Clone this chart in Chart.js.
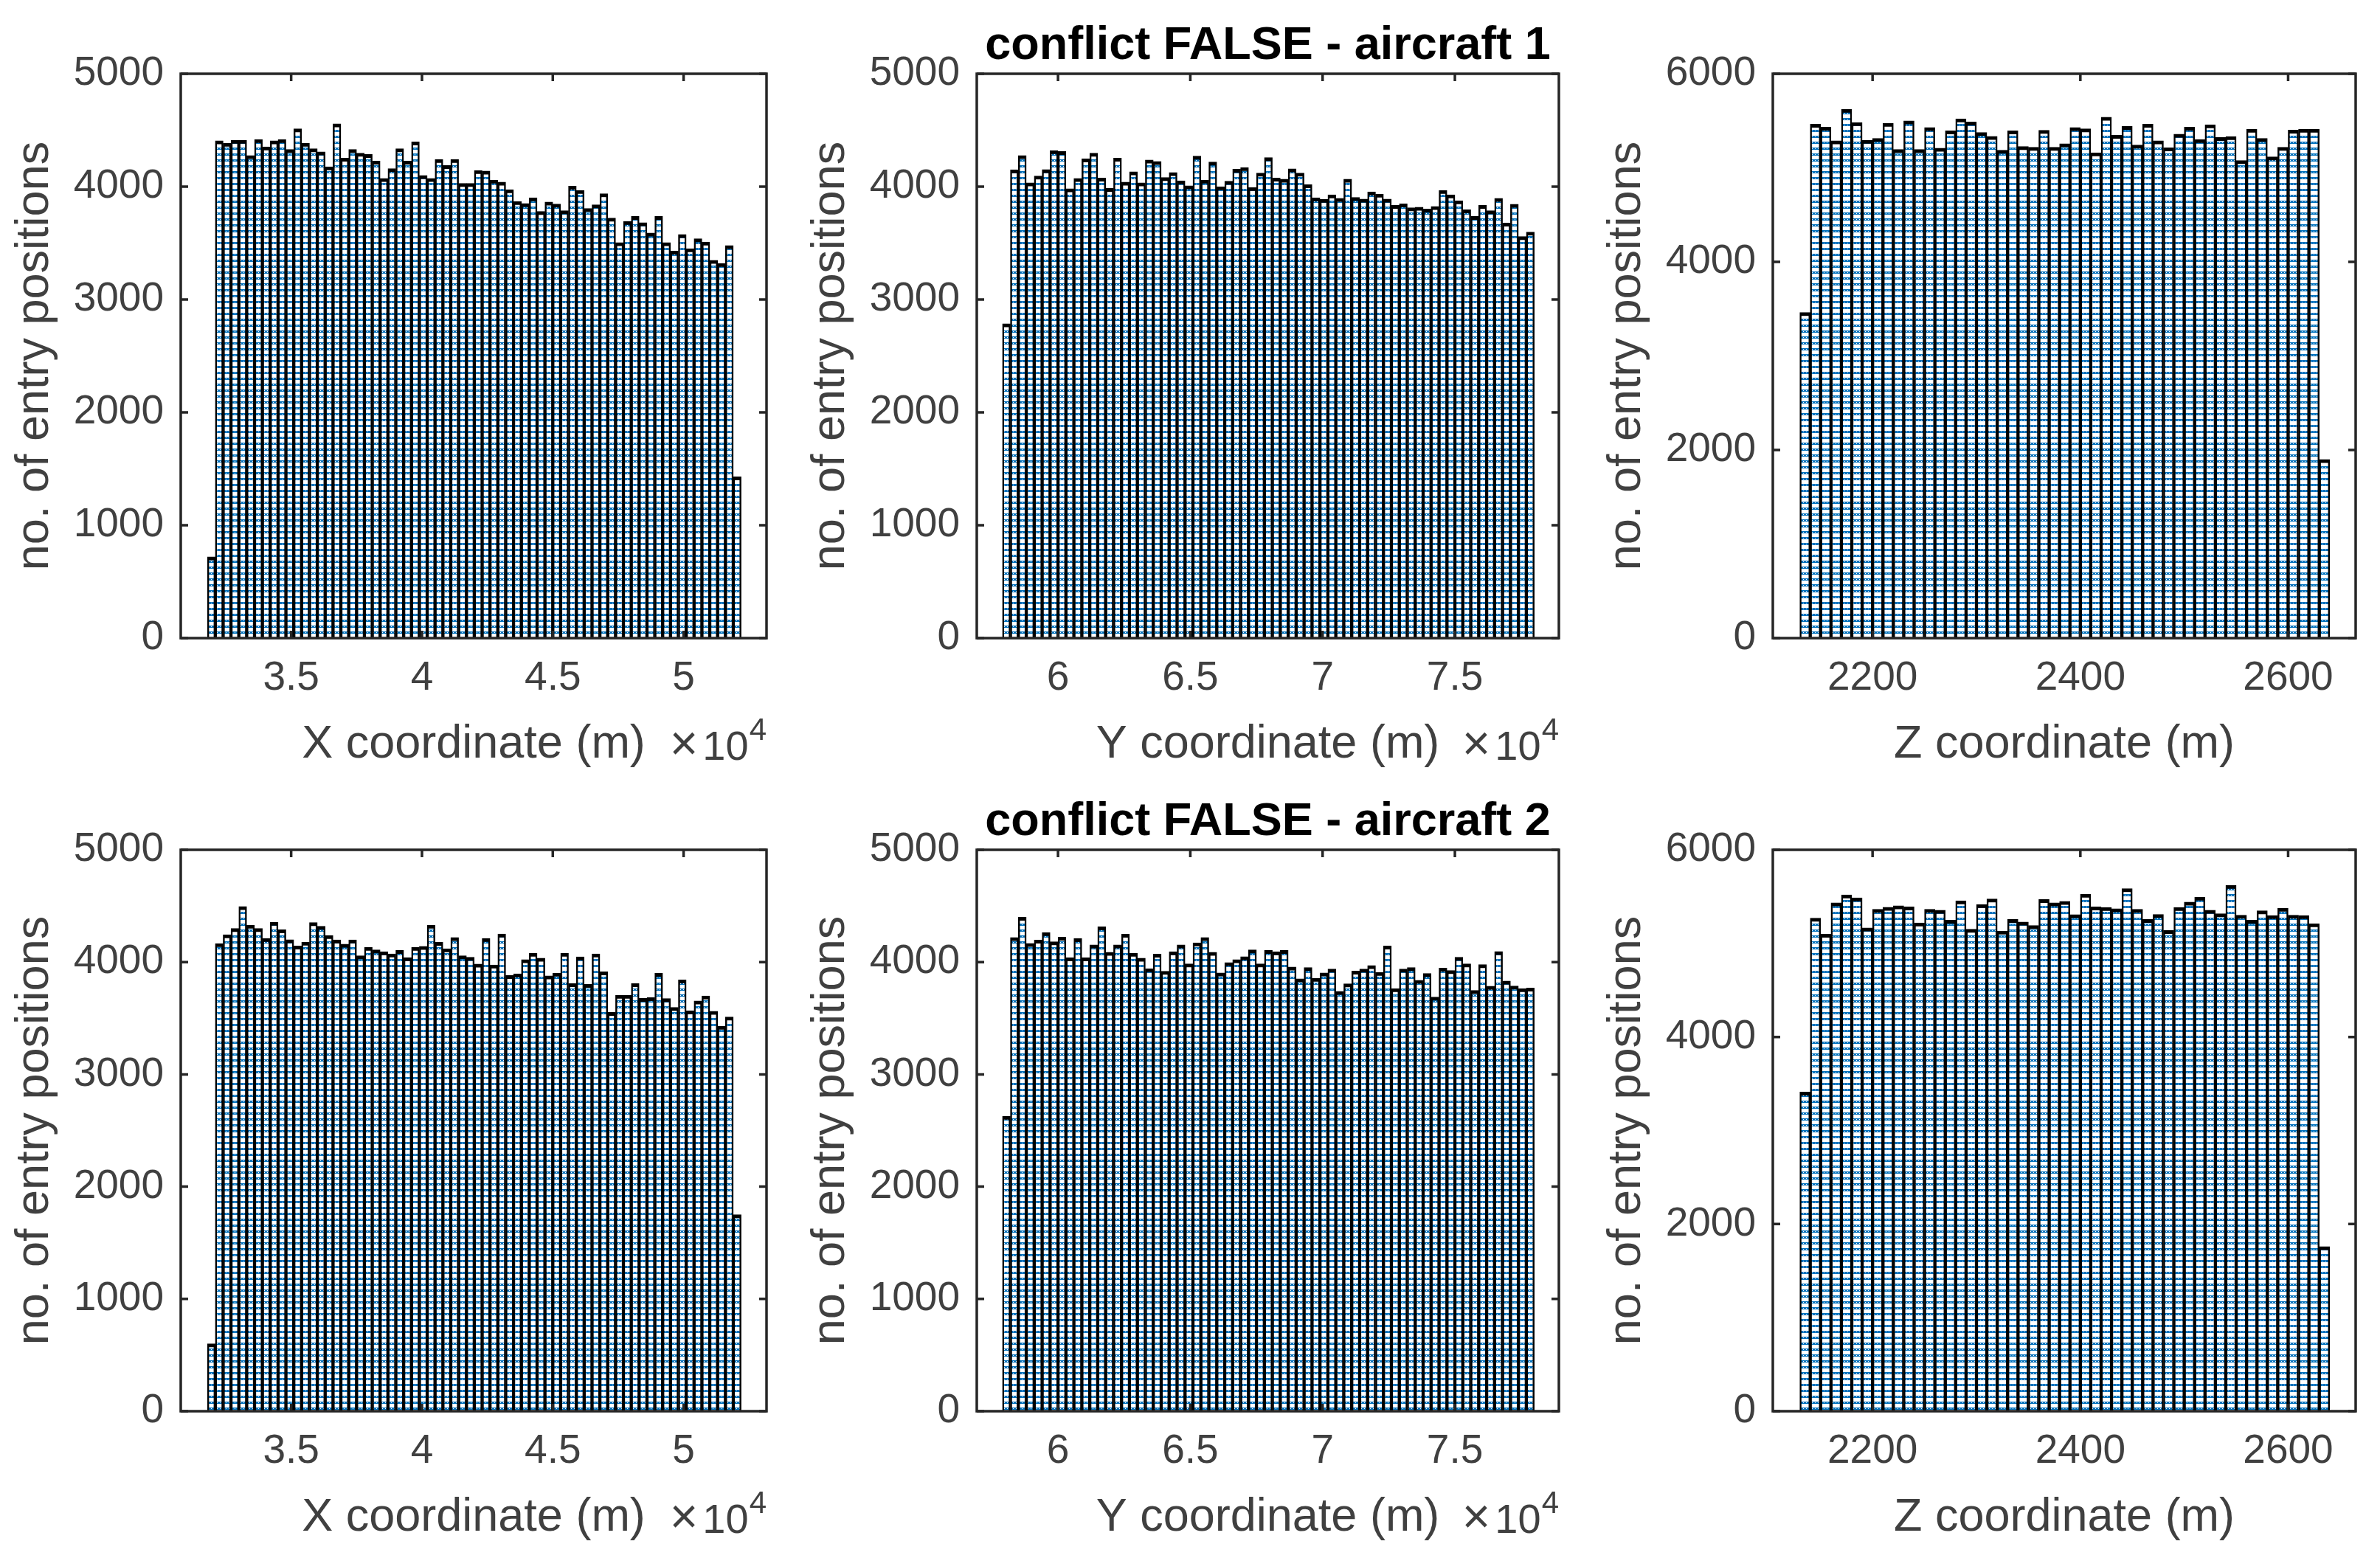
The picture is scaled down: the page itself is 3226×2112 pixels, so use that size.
<!DOCTYPE html>
<html>
<head>
<meta charset="utf-8">
<script src="https://cdn.jsdelivr.net/npm/chart.js@4.4.1/dist/chart.umd.min.js"></script>
<style>
    html, body { margin: 0; padding: 0; background: #fff; }
    body { width: 3226px; height: 2112px; position: relative; overflow: hidden; }
    .panel { position: absolute; }
</style>
</head>
<body>
<div id="p1" class="panel"><canvas></canvas></div>
<div id="p2" class="panel"><canvas></canvas></div>
<div id="p3" class="panel"><canvas></canvas></div>
<div id="p4" class="panel"><canvas></canvas></div>
<div id="p5" class="panel"><canvas></canvas></div>
<div id="p6" class="panel"><canvas></canvas></div>
<script>
// bins de los histogramas (inicio y ancho, en metros)
const xBinInicio = 31800
const yBinInicio = 57900
const zBinInicio = 2130
const xyBinAncho = 300
const zBinAncho = 10

// conteos por bin - aircraft 1
const xAc1 = [720, 4407, 4385, 4411, 4411, 4275, 4418, 4352, 4407, 4418, 4330, 4512, 4385, 4336, 4308, 4176, 4556, 4253, 4330, 4297,
    4286, 4226, 4073, 4160, 4336, 4226, 4396, 4099, 4073, 4242, 4187, 4242, 4029, 4029, 4143, 4138, 4059, 4040, 3974, 3868,
    3851, 3901, 3780, 3864, 3846, 3787, 4004, 3967, 3807, 3840, 3938, 3721, 3505, 3692, 3736, 3681, 3589, 3736, 3505, 3429,
    3576, 3451, 3538, 3510, 3347, 3319, 3479, 1430]
const yAc1 = [2785, 4149, 4275, 4033, 4095, 4152, 4319, 4312, 3982, 4073, 4246, 4297, 4077, 3985, 4253, 4040, 4132, 4033, 4237, 4224,
    4081, 4125, 4051, 4007, 4270, 4059, 4218, 4000, 4048, 4154, 4169, 3993, 4121, 4257, 4077, 4066, 4158, 4121, 4018, 3901,
    3888, 3927, 3897, 4066, 3905, 3890, 3954, 3934, 3890, 3835, 3848, 3813, 3818, 3802, 3824, 3967, 3927, 3875, 3796, 3736,
    3835, 3787, 3897, 3677, 3844, 3558, 3598]
const zAc1 = [3463, 5465, 5433, 5288, 5623, 5481, 5293, 5314, 5473, 5196, 5499, 5196, 5428, 5209, 5393, 5520, 5488, 5375, 5335, 5188,
    5393, 5227, 5219, 5399, 5219, 5256, 5428, 5415, 5161, 5539, 5346, 5441, 5243, 5465, 5288, 5214, 5359, 5433, 5301, 5459,
    5322, 5333, 5077, 5412, 5314, 5117, 5219, 5401, 5412, 5412, 1900]

// conteos por bin - aircraft 2
const xAc2 = [600, 4165, 4244, 4299, 4495, 4330, 4299, 4211, 4356, 4288, 4200, 4143, 4178, 4352, 4319, 4237, 4198, 4160, 4198, 4057,
    4132, 4110, 4092, 4073, 4105, 4040, 4132, 4141, 4330, 4176, 4119, 4220, 4057, 4044, 3982, 4211, 3974, 4251, 3881, 3895,
    4022, 4079, 4035, 3877, 3903, 4079, 3809, 4046, 3802, 4073, 3914, 3552, 3705, 3705, 3809, 3677, 3684, 3901, 3675, 3596,
    3842, 3567, 3655, 3699, 3563, 3429, 3512, 1750]
const yAc2 = [2628, 4219, 4400, 4166, 4197, 4263, 4182, 4223, 4039, 4210, 4039, 4153, 4315, 4088, 4153, 4249, 4079, 4035, 3941, 4072,
    3919, 4092, 4153, 3985, 4171, 4219, 4088, 3904, 3996, 4022, 4048, 4109, 3985, 4105, 4092, 4105, 3956, 3851, 3952, 3856,
    3904, 3939, 3740, 3807, 3921, 3939, 3969, 3908, 4144, 3764, 3939, 3952, 3838, 3899, 3689, 3947, 3926, 4044, 3985, 3748,
    3978, 3786, 4094, 3832, 3788, 3764, 3770]
const zAc2 = [3412, 5270, 5099, 5434, 5518, 5486, 5165, 5365, 5386, 5402, 5391, 5218, 5365, 5355, 5249, 5455, 5152, 5415, 5476, 5133,
    5257, 5228, 5191, 5470, 5434, 5449, 5307, 5526, 5391, 5384, 5370, 5586, 5365, 5257, 5310, 5138, 5384, 5441, 5494, 5355,
    5318, 5621, 5302, 5249, 5349, 5297, 5376, 5302, 5297, 5210, 1760]

// ticks de los ejes
const xTicks = [35000, 40000, 45000, 50000]
const yTicks = [60000, 65000, 70000, 75000]
const zTicks = [2200, 2400, 2600]
const conteoTicks = [0, 1000, 2000, 3000, 4000, 5000]
const conteoTicksZ = [0, 2000, 4000, 6000]

// limites de los ejes x
const xLimites = [30780, 53170]
const yLimites = [56930, 78930]
const zLimites = [2104, 2665]

const titulos = ['conflict FALSE - aircraft 1', 'conflict FALSE - aircraft 2']
const etiquetaY = 'no. of entry positions'

// posicion de las areas de dibujo (px de la pagina)
const columnas = [[245, 1039], [1324, 2113], [2403, 3193]]
const filas = [[100, 865], [1152, 1913]]
const ANCHO_EJE_Y = 245
const ALTO_EJE_X = 205
const MARGEN_SUPERIOR = 100
const MARGEN_DERECHO = 20
const LARGO_TICK = 10
const COLOR_TEXTO = '#404040'
const COLOR_EJE = '#262626'
const FUENTE = '"Liberation Sans", Arial, Helvetica, sans-serif'

Chart.defaults.font.family = FUENTE

// relleno rayado de las barras
const crearPatron = (ctx) => {
    const lienzo = document.createElement('canvas')
    lienzo.width = 4
    lienzo.height = 8
    const c = lienzo.getContext('2d')
    c.fillStyle = '#ffffff'
    c.fillRect(0, 0, 4, 8)
    c.fillStyle = '#0072bd'
    c.fillRect(0, 0, 4, 3)
    c.fillStyle = '#ffffff'
    c.fillRect(2, 1, 1, 1)
    return ctx.createPattern(lienzo, 'repeat')
}

// marco, ticks interiores, titulo y exponente
const marcoPlugin = {
    id: 'marco',
    afterDraw: (chart, args, opts) => {
        const { ctx, chartArea: a, scales: { x, y } } = chart
        ctx.save()
        ctx.strokeStyle = COLOR_EJE
        ctx.lineWidth = 3.5
        ctx.beginPath()
        x.ticks.forEach(t => {
            const px = x.getPixelForValue(t.value)
            ctx.moveTo(px, a.bottom)
            ctx.lineTo(px, a.bottom - LARGO_TICK)
            ctx.moveTo(px, a.top)
            ctx.lineTo(px, a.top + LARGO_TICK)
        })
        y.ticks.forEach(t => {
            const py = y.getPixelForValue(t.value)
            ctx.moveTo(a.left, py)
            ctx.lineTo(a.left + LARGO_TICK, py)
            ctx.moveTo(a.right, py)
            ctx.lineTo(a.right - LARGO_TICK, py)
        })
        ctx.stroke()
        ctx.strokeRect(a.left, a.top, a.right - a.left, a.bottom - a.top)

        if (opts.titulo) {
            ctx.fillStyle = '#000'
            ctx.font = 'bold 63px ' + FUENTE
            ctx.textAlign = 'center'
            ctx.textBaseline = 'alphabetic'
            ctx.fillText(opts.titulo, (a.left + a.right) / 2, a.top - 20)
        }
        if (opts.exponente) {
            ctx.fillStyle = COLOR_TEXTO
            ctx.textAlign = 'right'
            ctx.textBaseline = 'alphabetic'
            ctx.font = '42px ' + FUENTE
            ctx.fillText('4', a.right, a.bottom + 138)
            let xTexto = a.right - ctx.measureText('4').width - 1
            ctx.font = '56px ' + FUENTE
            ctx.fillText('10', xTexto, a.bottom + 165)
            xTexto -= ctx.measureText('10').width + 6
            ctx.font = '66px ' + FUENTE
            ctx.fillText('\u00d7', xTexto, a.bottom + 165)
        }
        ctx.restore()
    }
}

const paneles = [
    { id: 'p1', col: 0, fila: 0, valores: xAc1, inicio: xBinInicio, ancho: xyBinAncho, limites: xLimites, ticks: xTicks, escala: 1e4, conteo: conteoTicks, etiqueta: 'X coordinate (m)' },
    { id: 'p2', col: 1, fila: 0, valores: yAc1, inicio: yBinInicio, ancho: xyBinAncho, limites: yLimites, ticks: yTicks, escala: 1e4, conteo: conteoTicks, etiqueta: 'Y coordinate (m)', titulo: titulos[0] },
    { id: 'p3', col: 2, fila: 0, valores: zAc1, inicio: zBinInicio, ancho: zBinAncho, limites: zLimites, ticks: zTicks, escala: 1, conteo: conteoTicksZ, etiqueta: 'Z coordinate (m)' },
    { id: 'p4', col: 0, fila: 1, valores: xAc2, inicio: xBinInicio, ancho: xyBinAncho, limites: xLimites, ticks: xTicks, escala: 1e4, conteo: conteoTicks, etiqueta: 'X coordinate (m)' },
    { id: 'p5', col: 1, fila: 1, valores: yAc2, inicio: yBinInicio, ancho: xyBinAncho, limites: yLimites, ticks: yTicks, escala: 1e4, conteo: conteoTicks, etiqueta: 'Y coordinate (m)', titulo: titulos[1] },
    { id: 'p6', col: 2, fila: 1, valores: zAc2, inicio: zBinInicio, ancho: zBinAncho, limites: zLimites, ticks: zTicks, escala: 1, conteo: conteoTicksZ, etiqueta: 'Z coordinate (m)' }
]

const crearHistograma = (panel) => {
    const [izq, der] = columnas[panel.col]
    const [arr, abj] = filas[panel.fila]
    const ancho = ANCHO_EJE_Y + (der - izq) + MARGEN_DERECHO
    const alto = MARGEN_SUPERIOR + (abj - arr) + ALTO_EJE_X
    const contenedor = document.getElementById(panel.id)
    contenedor.style.left = (izq - ANCHO_EJE_Y) + 'px'
    contenedor.style.top = (arr - MARGEN_SUPERIOR) + 'px'
    const canvas = contenedor.querySelector('canvas')
    canvas.width = ancho
    canvas.height = alto
    canvas.style.width = ancho + 'px'
    canvas.style.height = alto + 'px'

    new Chart(canvas, {
        type: 'bar',
        data: {
            datasets: [{
                data: panel.valores.map((v, i) => ({ x: panel.inicio + (i + 0.5) * panel.ancho, y: v })),
                backgroundColor: crearPatron(canvas.getContext('2d')),
                borderColor: '#000',
                borderWidth: { top: 5, left: 2.5, right: 2.5, bottom: 0 },
                borderSkipped: 'start',
                barPercentage: 1,
                categoryPercentage: 1
            }]
        },
        options: {
            responsive: false,
            devicePixelRatio: 1,
            animation: false,
            layout: { padding: { top: MARGEN_SUPERIOR, right: MARGEN_DERECHO, left: 0, bottom: 0 } },
            plugins: {
                legend: { display: false },
                tooltip: { enabled: false },
                marco: { titulo: panel.titulo, exponente: panel.escala !== 1 }
            },
            scales: {
                x: {
                    type: 'linear',
                    min: panel.limites[0],
                    max: panel.limites[1],
                    offset: false,
                    grid: { display: false, drawTicks: false, offset: false },
                    border: { display: false },
                    afterBuildTicks: s => { s.ticks = panel.ticks.map(v => ({ value: v })) },
                    afterFit: s => { s.height = ALTO_EJE_X },
                    ticks: {
                        autoSkip: false,
                        maxRotation: 0,
                        padding: 22,
                        color: COLOR_TEXTO,
                        font: { size: 55, lineHeight: 1.2 },
                        callback: v => String(v / panel.escala)
                    },
                    title: {
                        display: true,
                        text: panel.etiqueta,
                        color: COLOR_TEXTO,
                        font: { size: 63, lineHeight: 1.2 },
                        padding: { top: 0, bottom: 23 }
                    }
                },
                y: {
                    type: 'linear',
                    min: 0,
                    max: panel.conteo[panel.conteo.length - 1],
                    grid: { display: false, drawTicks: false },
                    border: { display: false },
                    afterBuildTicks: s => { s.ticks = panel.conteo.map(v => ({ value: v })) },
                    afterFit: s => { s.width = ANCHO_EJE_Y },
                    ticks: {
                        autoSkip: false,
                        padding: 23,
                        color: COLOR_TEXTO,
                        font: { size: 55, lineHeight: 1.2 },
                        callback: v => String(v)
                    },
                    title: {
                        display: true,
                        text: etiquetaY,
                        color: COLOR_TEXTO,
                        font: { size: 63, lineHeight: 1.2 },
                        padding: { top: 10, bottom: 0 }
                    }
                }
            }
        },
        plugins: [marcoPlugin]
    })
}

paneles.forEach(crearHistograma)
</script>
</body>
</html>
